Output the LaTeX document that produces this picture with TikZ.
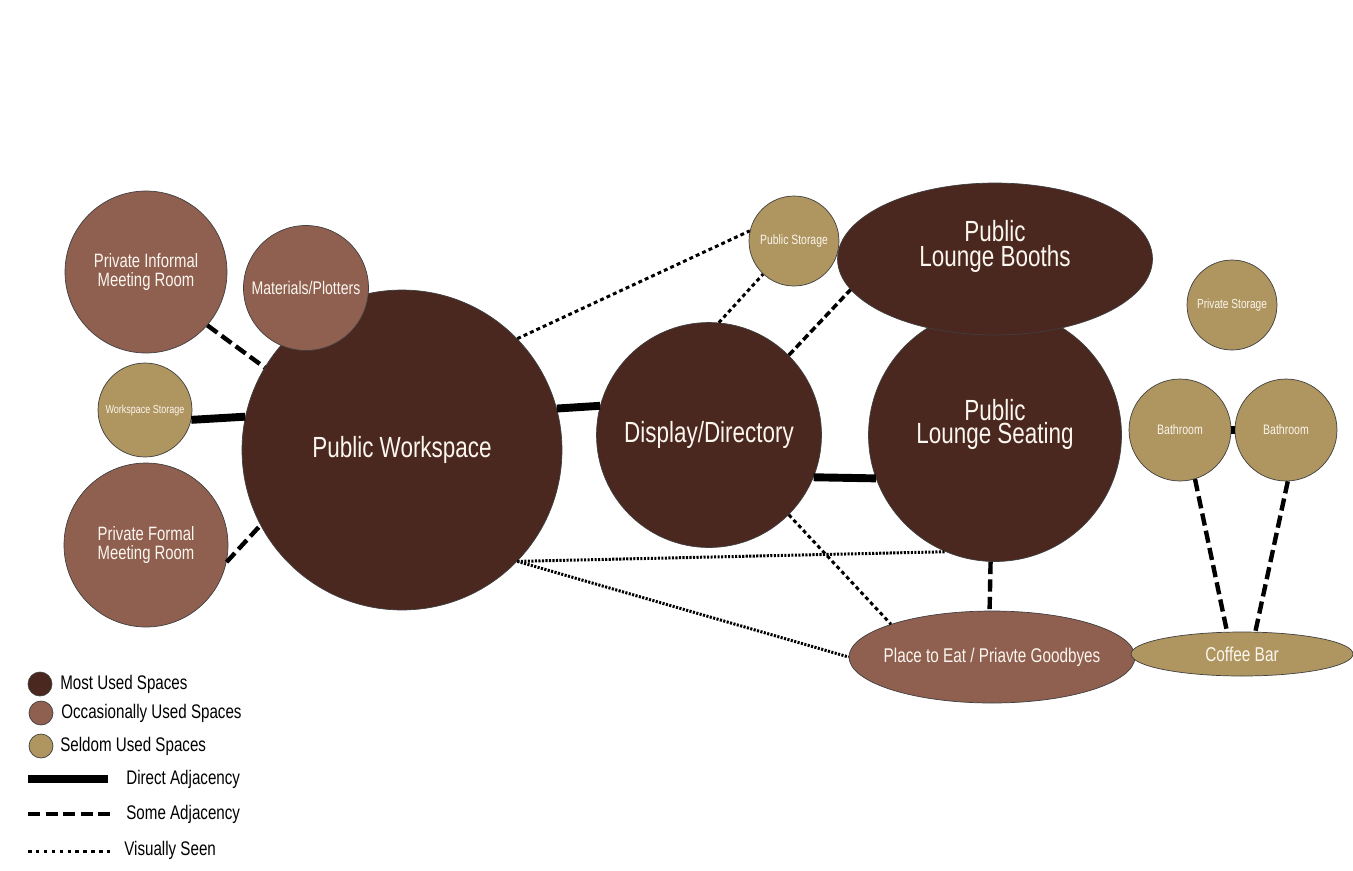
\documentclass[tikz,border=0pt]{standalone}
\usepackage{fontspec}
\setmainfont{Liberation Sans}[FakeStretch=0.77]
\usetikzlibrary{shapes.geometric}
\definecolor{mostc}{HTML}{4A271F}
\definecolor{occc}{HTML}{8F5F50}
\definecolor{seldc}{HTML}{AF955F}
\definecolor{cream}{HTML}{FBF6EE}
\tikzset{
  space/.style={circle, draw=black!75, line width=0.4pt, inner sep=0pt, text=cream, align=center},
  most/.style={space, fill=mostc},
  occas/.style={space, fill=occc},
  seldom/.style={space, fill=seldc},
  tag/.style={text=cream, align=center, inner sep=0pt},
  direct/.style={line width=4.5pt},
  some/.style={line width=2.5pt, dash pattern=on 7pt off 3pt},
  seen/.style={line width=1.7pt, dash pattern=on 2.2pt off 1.8pt},
  seenfine/.style={line width=1.7pt, dash pattern=on 1.2pt off 0.8pt},
  key/.style={anchor=west, inner sep=0pt, font=\fontsize{11.2}{12}\selectfont}
}

\begin{document}
\begin{tikzpicture}[x=0.02cm, y=-0.02cm]
  \useasboundingbox[fill=white] (0,0) rectangle (1353,870);

  \node[most, minimum size=6.4cm, font=\fontsize{16.6}{15}\selectfont] (pw) at (402,450) {Public Workspace};
  \node[most, minimum size=4.5cm, font=\fontsize{16.6}{15}\selectfont] (disp) at (709,435) {Display/Directory};
  \node[most, minimum size=5.06cm,
        label={[tag, yshift=6pt, font=\fontsize{16.6}{12.8}\selectfont]center:Public\\Lounge Seating}] (seat) at (995,435) {};
  \node[most, ellipse, minimum width=6.3cm, minimum height=3.04cm,
        label={[tag, yshift=7pt, font=\fontsize{16.6}{14.5}\selectfont]center:Public\\Lounge Booths}] (booth) at (995,259) {};
  \node[seldom, minimum size=1.8cm, font=\fontsize{7.7}{9}\selectfont] (pst) at (794,241) {Public Storage};

  \node[occas, minimum size=3.24cm, font=\fontsize{11}{10.8}\selectfont] (inf) at (146,272) {Private Informal\\Meeting Room};
  \node[occas, minimum size=2.5cm, font=\fontsize{10.4}{12}\selectfont] (mat) at (306,288) {Materials/Plotters};
  \node[seldom, minimum size=1.88cm, font=\fontsize{6.65}{8}\selectfont] (wst) at (145,410) {Workspace Storage};
  \node[occas, minimum size=3.28cm, font=\fontsize{11}{10.8}\selectfont] (form) at (146,545) {Private Formal\\Meeting Room};

  \node[seldom, minimum size=1.8cm, font=\fontsize{7.5}{9}\selectfont] (prst) at (1232,305) {Private Storage};
  \node[seldom, minimum size=2.04cm, font=\fontsize{7.8}{9}\selectfont] (bl) at (1180,430) {Bathroom};
  \node[seldom, minimum size=2.04cm, font=\fontsize{7.8}{9}\selectfont] (br) at (1286,430) {Bathroom};

  \node[occas, ellipse, minimum width=5.72cm, minimum height=1.84cm,
        label={[tag, font=\fontsize{11.3}{12}\selectfont]center:Place to Eat / Priavte Goodbyes}] (eat) at (992,657) {};
  \node[seldom, ellipse, minimum width=4.44cm, minimum height=0.88cm, font=\fontsize{11.4}{12}\selectfont] (cof) at (1242,654) {Coffee Bar};

  \draw[direct] (wst.-12) -- (pw.168);
  \draw[direct] (pw.15) -- (disp.165);
  \draw[direct] (disp.-22) -- (seat.-160);
  \draw[direct] (bl) -- (br);

  \draw[some] (inf.-41) -- (pw.149);
  \draw[some] (form.-12) -- (pw.-152);
  \draw[some, line width=2pt, dash pattern=on 4pt off 2pt] (disp.45) -- (booth.-168);
  \draw[some] (seat.-92) -- (eat.93);
  \draw[some] (bl.-73) -- (cof.124);
  \draw[some] (br.-88) -- (cof.59);

  \draw[seen] (pw.44) -- (pst.167);
  \draw[seen] (disp.85) -- (pst.-133);
  \draw[seen] (disp.-45) -- (eat.162);
  \draw[seenfine] (pw.-44) -- (seat.-113);
  \draw[seenfine] (pw.-44) -- (eat.180);

  % key
  \node[most, minimum size=0.48cm] (k1) at (40,684) {};
  \node[occas, minimum size=0.48cm] (k2) at (41,713) {};
  \node[seldom, minimum size=0.48cm] (k3) at (41,746) {};
  \node[key] (t1) at (60,684) {Most Used Spaces};
  \node[key] (t2) at (61,713) {Occasionally Used Spaces};
  \node[key] (t3) at (60,746) {Seldom Used Spaces};
  \node[key] (t4) at (126,779) {Direct Adjacency};
  \node[key] (t5) at (126,814) {Some Adjacency};
  \node[key] (t6) at (124,850) {Visually Seen};
  \coordinate (d1) at (28,779);
  \coordinate (d2) at (108,779);
  \coordinate (s1) at (28,814);
  \coordinate (s2) at (110,814);
  \coordinate (v1) at (28,851);
  \coordinate (v2) at (110,851);
  \draw[direct, line width=5pt] (d1) -- (d2);
  \draw[some] (s1) -- (s2);
  \draw[seen, dash pattern=on 2pt off 2.5pt] (v1) -- (v2);
\end{tikzpicture}
\end{document}
